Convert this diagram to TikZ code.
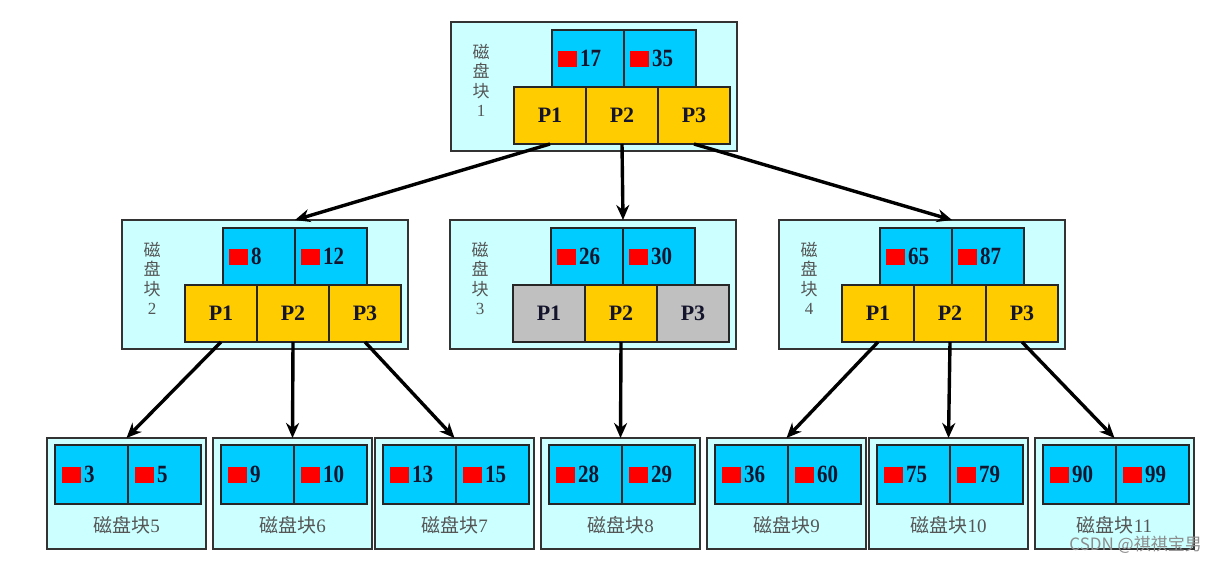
\documentclass[tikz,border=0pt]{standalone}
\usepackage{fontspec}
\setmainfont{Liberation Serif}
\newfontfamily\cjk{Noto Sans CJK SC}
\usetikzlibrary{arrows.meta}
\definecolor{boxcyan}{RGB}{204,255,255}
\definecolor{keyblue}{RGB}{0,204,255}
\definecolor{pgold}{RGB}{255,204,0}
\definecolor{pgray}{RGB}{192,192,192}
\definecolor{numink}{RGB}{20,20,45}
\definecolor{labink}{RGB}{85,85,85}
\tikzset{
  outerbox/.style={draw=black!80, fill=boxcyan, line width=1.3pt, anchor=north west, inner sep=0pt, outer sep=0pt},
  keycell/.style={draw=black!85, fill=keyblue, line width=1.3pt, anchor=north west, minimum width=72pt, minimum height=57pt, inner sep=0pt, outer sep=0pt},
  pcell/.style={draw=black!85, line width=1.3pt, anchor=north west, minimum width=72pt, minimum height=57pt, inner sep=0pt, outer sep=0pt, text=numink, font=\fontsize{22pt}{22pt}\selectfont\bfseries},
  keytext/.style={anchor=west, inner sep=0pt, text=numink, font=\fontsize{21pt}{21pt}\selectfont\bfseries},
  vlabel/.style={anchor=north, align=center, inner sep=0pt, text=labink, font=\fontsize{17pt}{19.5pt}\selectfont},
  hlabel/.style={inner sep=0pt, text=labink, font=\fontsize{19pt}{19pt}\selectfont},
  arr/.style={line width=3.4pt, -{Stealth[length=15pt,width=13pt]}},
}
\newcommand\redkey[1]{\textcolor{red}{\rule[-1pt]{19pt}{16pt}}\hspace{3pt}\scalebox{1}[1.18]{#1}}
\newcommand\iblock[9]{%
  \node[outerbox, minimum width=286pt, minimum height=129pt] (#1) at (#2,#3) {};
  \node[keycell] (#1k1) at (#2+101,#3+8) {};
  \node[keycell] (#1k2) at (#1k1.north east) {};
  \node[keytext] (#1t1) at ([xshift=6pt]#1k1.west) {\redkey{#5}};
  \node[keytext] (#1t2) at ([xshift=6pt]#1k2.west) {\redkey{#6}};
  \node[pcell, fill=#7] (#1p1) at (#2+63,#3+65) {P1};
  \node[pcell, fill=#8] (#1p2) at (#1p1.north east) {P2};
  \node[pcell, fill=#9] (#1p3) at (#1p2.north east) {P3};
  \node[vlabel] (#1lab) at (#2+30,#3+22) {{\cjk 磁}\\{\cjk 盘}\\{\cjk 块}\\#4};
}
\newcommand\leafblock[5]{%
  \node[outerbox, minimum width=159pt, minimum height=111pt] (#1) at (#2,438) {};
  \node[keycell, minimum width=73pt, minimum height=59pt] (#1k1) at (#2+8,445) {};
  \node[keycell, minimum width=73pt, minimum height=59pt] (#1k2) at (#1k1.north east) {};
  \node[keytext] (#1t1) at ([xshift=7pt]#1k1.west) {\redkey{#3}};
  \node[keytext] (#1t2) at ([xshift=7pt]#1k2.west) {\redkey{#4}};
  \node[hlabel] (#1lab) at (#2+79.5,525) {{\cjk 磁盘块}#5};
}
\begin{document}
\begin{tikzpicture}[x=1pt,y=-1pt]
\path[fill=white] (0,0) rectangle (1217,564);
\useasboundingbox (0,0) rectangle (1217,564);
% internal blocks
\iblock{b1}{451}{22}{1}{17}{35}{pgold}{pgold}{pgold}
\iblock{b2}{122}{220}{2}{8}{12}{pgold}{pgold}{pgold}
\iblock{b3}{450}{220}{3}{26}{30}{pgray}{pgold}{pgray}
\iblock{b4}{779}{220}{4}{65}{87}{pgold}{pgold}{pgold}
% leaves
\leafblock{b5}{47}{3}{5}{5}
\leafblock{b6}{213}{9}{10}{6}
\leafblock{b7}{375}{13}{15}{7}
\leafblock{b8}{541}{28}{29}{8}
\leafblock{b9}{707}{36}{60}{9}
\leafblock{b10}{869}{75}{79}{10}
\leafblock{b11}{1035}{90}{99}{11}
% arrows
\draw[arr] (b1p1.south) -- (b2k1.north east |- b2.north);
\draw[arr] (b1p2.south) -- (b3k1.north east |- b3.north);
\draw[arr] (b1p3.south) -- (b4k1.north east |- b4.north);
\draw[arr] (b2p1.south) -- (b5.north);
\draw[arr] (b2p2.south) -- (b6.north);
\draw[arr] (b2p3.south) -- (b7.north);
\draw[arr] (b3p2.south) -- (b8.north);
\draw[arr] (b4p1.south) -- (b9.north);
\draw[arr] (b4p2.south) -- (b10.north);
\draw[arr] (b4p3.south) -- (b11.north);
% watermark
\node[anchor=east, inner sep=0pt, text=black!45, font=\cjk\fontsize{17pt}{17pt}\selectfont] (wm) at (1202,545) {CSDN @祺祺宝男};
\end{tikzpicture}
\end{document}
